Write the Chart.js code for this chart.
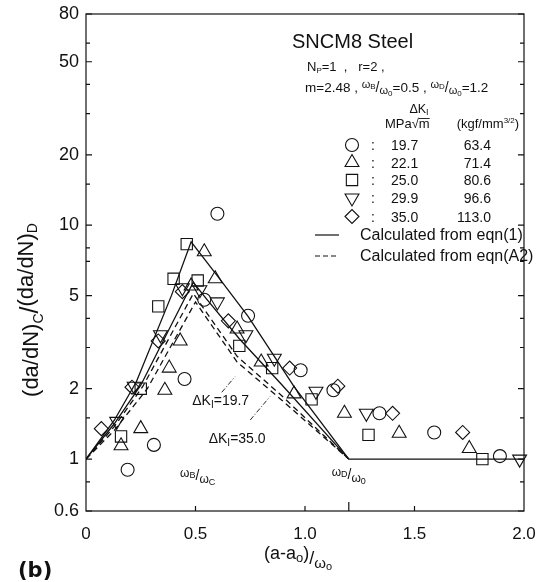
<!DOCTYPE html>
<html>
<head>
<meta charset="utf-8">
<script src="https://cdn.jsdelivr.net/npm/chart.js@4.4.1/dist/chart.umd.min.js"></script>
<style>
  html, body { margin: 0; padding: 0; background: #fff; }
</style>
</head>
<body>
<canvas id="chart" width="545" height="582"></canvas>
<script>
// (da/dN)c/(da/dN)D against (a-a0)/w0, one series per stress intensity range
const dk197X = [0.19, 0.31, 0.45, 0.54, 0.60, 0.74, 0.98, 1.13, 1.34, 1.59, 1.89];
const dk197Y = [0.90, 1.15, 2.2, 4.8, 11.2, 4.1, 2.4, 1.97, 1.57, 1.30, 1.03];
const dk221X = [0.16, 0.25, 0.36, 0.38, 0.43, 0.48, 0.54, 0.59, 0.69, 0.80, 0.95, 1.18, 1.43, 1.75];
const dk221Y = [1.14, 1.35, 1.97, 2.45, 3.2, 5.5, 7.7, 5.9, 3.6, 2.6, 1.9, 1.57, 1.29, 1.11];
const dk250X = [0.16, 0.25, 0.33, 0.40, 0.46, 0.51, 0.70, 0.85, 1.03, 1.29, 1.81];
const dk250Y = [1.25, 2.0, 4.5, 5.9, 8.3, 5.8, 3.05, 2.45, 1.8, 1.27, 1.0];
const dk299X = [0.14, 0.22, 0.34, 0.44, 0.52, 0.60, 0.73, 0.86, 1.05, 1.28, 1.98];
const dk299Y = [1.45, 2.05, 3.4, 5.4, 5.3, 4.7, 3.4, 2.7, 1.95, 1.57, 1.0];
const dk350X = [0.07, 0.21, 0.33, 0.44, 0.65, 0.93, 1.15, 1.40, 1.72];
const dk350Y = [1.35, 2.03, 3.2, 5.2, 3.9, 2.45, 2.05, 1.57, 1.30];

// calculated curves: eqn(1) solid, eqn(A2) dashed
const eq1Dk197X = [0, 0.13, 0.23, 0.39, 0.48, 0.60, 0.74, 0.86, 0.95, 1.2, 2.0];
const eq1Dk197Y = [1, 1.47, 2.14, 5.0, 8.5, 6.07, 4.08, 2.75, 2.04, 1, 1];
const eq1Dk350X = [0, 0.13, 0.25, 0.45, 0.49, 0.55, 0.70, 0.89, 1.2];
const eq1Dk350Y = [1, 1.42, 2.07, 4.85, 5.7, 4.84, 3.27, 2.1, 1];
const a2Dk197X = [0, 0.13, 0.26, 0.49, 0.69, 0.89, 1.2];
const a2Dk197Y = [1, 1.38, 2.05, 5.1, 2.75, 1.88, 1];
const a2Dk350X = [0, 0.13, 0.28, 0.50, 0.69, 0.89, 1.2];
const a2Dk350Y = [1, 1.33, 2.0, 4.7, 2.6, 1.8, 1];

// axes
const yMajorTicks = [0.6, 1, 2, 5, 10, 20, 50, 80];
const yMinorTicks = [0.8, 1.5, 3, 4, 7, 8, 15, 30, 40, 60];
const xTickMarks = [0.5, 1.0, 1.2, 1.5];
const xCriticalTick = 1.2;

// legend table
const legendDkMPa = ['19.7', '22.1', '25.0', '29.9', '35.0'];
const legendDkKgf = ['63.4', '71.4', '80.6', '96.6', '113.0'];

const ink = '#111';
const font = '"Liberation Sans", Arial, sans-serif';

const zip = (xs, ys) => xs.map((x, i) => ({ x, y: ys[i] }));

const markers = (label, xs, ys, style, r, rot) => ({
  type: 'scatter',
  label,
  data: zip(xs, ys),
  pointStyle: style,
  pointRadius: r,
  pointHoverRadius: r,
  pointRotation: rot || 0,
  pointBorderColor: ink,
  pointBackgroundColor: 'rgba(0,0,0,0)',
  pointBorderWidth: 1.1,
  showLine: false,
  clip: false
});

const curve = (label, xs, ys, dash) => ({
  type: 'line',
  label,
  data: zip(xs, ys),
  borderColor: ink,
  borderWidth: 1.3,
  borderDash: dash,
  pointRadius: 0,
  tension: 0,
  fill: false
});

const symbols = [
  { pointStyle: 'circle', radius: 6.5, rotation: 0 },
  { pointStyle: 'triangle', radius: 8, rotation: 0 },
  { pointStyle: 'rect', radius: 8, rotation: 0 },
  { pointStyle: 'triangle', radius: 8, rotation: 180 },
  { pointStyle: 'rectRot', radius: 7, rotation: 0 }
];

// text made of runs: [text, size, baseline shift]
function rich(ctx, x, y, parts, align) {
  let w = 0;
  parts.forEach(p => { ctx.font = p[1] + 'px ' + font; w += ctx.measureText(p[0]).width; });
  let cx = align === 'center' ? x - w / 2 : (align === 'right' ? x - w : x);
  parts.forEach(p => {
    ctx.font = p[1] + 'px ' + font;
    ctx.fillText(p[0], cx, y + (p[2] || 0));
    cx += ctx.measureText(p[0]).width;
  });
  return w;
}

function symbol(ctx, s, x, y) {
  ctx.save();
  ctx.fillStyle = 'rgba(0,0,0,0)';
  ctx.strokeStyle = ink;
  ctx.lineWidth = 1.1;
  Chart.helpers.drawPoint(ctx, { pointStyle: s.pointStyle, radius: s.radius, rotation: s.rotation, borderWidth: 1.1 }, x, y);
  ctx.restore();
}

const decorations = {
  id: 'decorations',
  afterDraw(chart) {
    const { ctx, chartArea: a, scales: { x, y } } = chart;
    ctx.save();
    ctx.strokeStyle = ink;
    ctx.fillStyle = ink;
    ctx.lineWidth = 1.2;
    ctx.textBaseline = 'alphabetic';
    ctx.strokeRect(a.left, a.top, a.right - a.left, a.bottom - a.top);

    // inward ticks
    ctx.beginPath();
    yMajorTicks.concat(yMinorTicks).forEach(v => {
      const py = y.getPixelForValue(v);
      const len = yMajorTicks.includes(v) ? 6 : 4;
      ctx.moveTo(a.left, py); ctx.lineTo(a.left + len, py);
      ctx.moveTo(a.right, py); ctx.lineTo(a.right - len, py);
    });
    xTickMarks.forEach(v => {
      const px = x.getPixelForValue(v);
      ctx.moveTo(px, a.bottom);
      ctx.lineTo(px, a.bottom - (v === xCriticalTick ? 9 : 5));
    });
    ctx.stroke();

    // axis titles
    ctx.save();
    ctx.translate(31, 310);
    ctx.rotate(-Math.PI / 2);
    rich(ctx, 0, 7, [['(da/dN)', 22, 0], ['C', 14, 5], ['/', 25, 0], ['(da/dN)', 22, -5], ['D', 14, -1]], 'center');
    ctx.restore();
    rich(ctx, 298, 559, [['(a-a', 18, 0], ['o', 13, 3], [')', 18, 0], ['/', 18, 5], ['ω', 15, 9], ['o', 11, 11]], 'center');
    ctx.font = 'bold 21px "DejaVu Sans", sans-serif';
    ctx.fillText('(b)', 18, 577);

    // notes on the curves
    ctx.lineWidth = 0.9;
    ctx.setLineDash([5, 2, 1, 2]);
    ctx.beginPath();
    ctx.moveTo(x.getPixelForValue(0.62), y.getPixelForValue(1.93));
    ctx.lineTo(x.getPixelForValue(0.68), y.getPixelForValue(2.25));
    ctx.moveTo(x.getPixelForValue(0.75), y.getPixelForValue(1.47));
    ctx.lineTo(x.getPixelForValue(0.84), y.getPixelForValue(1.85));
    ctx.stroke();
    ctx.setLineDash([]);
    rich(ctx, x.getPixelForValue(0.615), y.getPixelForValue(1.8) + 6,
      [['ΔK', 14, 0], ['I', 10, 3], ['=19.7', 14, 0]], 'center');
    rich(ctx, x.getPixelForValue(0.69), y.getPixelForValue(1.24) + 6,
      [['ΔK', 14, 0], ['I', 10, 3], ['=35.0', 14, 0]], 'center');
    rich(ctx, x.getPixelForValue(0.51), y.getPixelForValue(0.846) + 4,
      [['ω', 12, -3], ['B', 9, -2], ['/', 14, 0], ['ω', 12, 3], ['C', 9, 5]], 'center');
    rich(ctx, x.getPixelForValue(1.2), y.getPixelForValue(0.855) + 4,
      [['ω', 12, -3], ['D', 9, -2], ['/', 14, 0], ['ω', 12, 3], ['0', 9, 5]], 'center');

    // heading and conditions
    rich(ctx, 292, 48, [['SNCM8 Steel', 20, 0]]);
    rich(ctx, 307, 71, [['N', 13, 0], ['P', 8, 2], ['=1  ,   r=2 ,', 13, 0]]);
    rich(ctx, 305, 92, [
      ['m=2.48 , ', 13.5, 0], ['ω', 11, -4], ['B', 8, -3], ['/', 14, 0], ['ω', 11, 2], ['0', 8, 4],
      ['=0.5 , ', 13.5, 0], ['ω', 11, -4], ['D', 8, -3], ['/', 14, 0], ['ω', 11, 2], ['0', 8, 4],
      ['=1.2', 13.5, 0]
    ]);
    rich(ctx, 419, 113, [['ΔK', 12.5, 0], ['I', 9, 2]], 'center');
    const w = rich(ctx, 385, 128, [['MPa√m', 13, 0]]);
    ctx.lineWidth = 0.9;
    ctx.beginPath();
    ctx.moveTo(385 + w - 11, 118.5);
    ctx.lineTo(385 + w, 118.5);
    ctx.stroke();
    rich(ctx, 412 + w, 128, [['(kgf/mm', 13, 0], ['3/2', 8, -5], [')', 13, 0]]);

    // legend table
    const rows = [145, 162.5, 180, 198, 216.5];
    rows.forEach((ry, i) => {
      symbol(ctx, symbols[i], 352, ry);
      ctx.fillStyle = ink;
      rich(ctx, 371, ry + 5, [[':', 14, 0]]);
      rich(ctx, 391, ry + 5, [[legendDkMPa[i], 14, 0]]);
      rich(ctx, 491, ry + 5, [[legendDkKgf[i], 14, 0]], 'right');
    });
    ctx.lineWidth = 1.2;
    ctx.beginPath();
    ctx.moveTo(315, 235); ctx.lineTo(339, 235);
    ctx.stroke();
    ctx.setLineDash([5, 3]);
    ctx.beginPath();
    ctx.moveTo(315, 256); ctx.lineTo(339, 256);
    ctx.stroke();
    ctx.setLineDash([]);
    rich(ctx, 360, 240, [['Calculated from eqn(1)', 16, 0]]);
    rich(ctx, 360, 261, [['Calculated from eqn(A2)', 16, 0]]);
    ctx.restore();
  }
};

new Chart(document.getElementById('chart').getContext('2d'), {
  data: {
    datasets: [
      curve('eqn(1), ΔK 19.7', eq1Dk197X, eq1Dk197Y, []),
      curve('eqn(1), ΔK 35.0', eq1Dk350X, eq1Dk350Y, []),
      curve('eqn(A2), ΔK 19.7', a2Dk197X, a2Dk197Y, [6, 4]),
      curve('eqn(A2), ΔK 35.0', a2Dk350X, a2Dk350Y, [6, 4]),
      markers('19.7', dk197X, dk197Y, 'circle', 6.5),
      markers('22.1', dk221X, dk221Y, 'triangle', 8),
      markers('25.0', dk250X, dk250Y, 'rect', 8),
      markers('29.9', dk299X, dk299Y, 'triangle', 8, 180),
      markers('35.0', dk350X, dk350Y, 'rectRot', 7)
    ]
  },
  options: {
    responsive: false,
    animation: false,
    devicePixelRatio: 1,
    layout: { padding: { left: 0, top: 14, right: 21, bottom: 0 } },
    plugins: { legend: { display: false }, tooltip: { enabled: false } },
    scales: {
      x: {
        type: 'linear',
        min: 0,
        max: 2,
        afterFit: s => { s.height = 71; s.paddingLeft = 0; s.paddingRight = 0; },
        grid: { display: false, drawTicks: false },
        border: { display: false },
        ticks: {
          stepSize: 0.5,
          padding: 13,
          color: ink,
          font: { family: font, size: 17 },
          callback: v => (v === 0 ? '0' : v.toFixed(1))
        }
      },
      y: {
        type: 'logarithmic',
        min: 0.6,
        max: 80,
        afterFit: s => { s.width = 86; s.paddingTop = 0; s.paddingBottom = 0; },
        afterBuildTicks: s => { s.ticks = yMajorTicks.map(v => ({ value: v })); },
        grid: { display: false, drawTicks: false },
        border: { display: false },
        ticks: {
          autoSkip: false,
          padding: 7,
          color: ink,
          font: { family: font, size: 18 },
          callback: v => String(v)
        }
      }
    }
  },
  plugins: [decorations]
});
</script>
</body>
</html>
